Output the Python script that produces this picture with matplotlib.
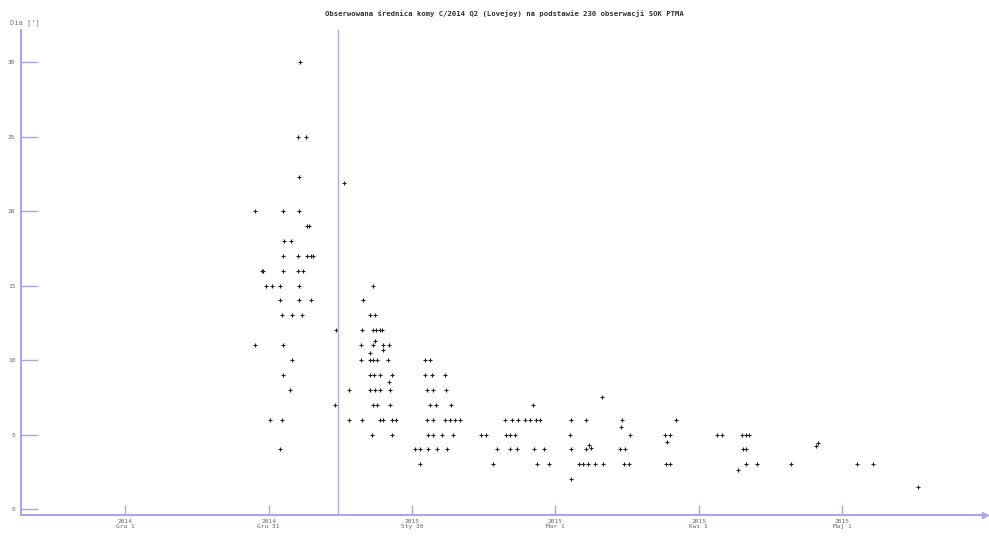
import matplotlib
matplotlib.use("Agg")
import matplotlib.pyplot as plt

# dni liczone od 1 grudnia 2014
dzien = [
    36.6, 36.2, 37.9, 36.4, 27.2, 33.1, 36.4, 38.0, 38.4, 33.3, 34.7,
    33.1, 36.2, 38.1, 38.9, 39.3, 28.7, 28.9, 33.1, 36.2, 37.2,
    29.5, 30.8, 32.4, 36.4, 32.4, 36.4, 38.9, 32.8, 34.9, 37.0,
    27.2, 33.1, 34.9, 33.1, 34.5, 30.3, 32.8, 32.4,
    44.1, 43.9, 45.8,
    51.9, 49.8, 51.3, 52.3, 49.6, 51.9, 52.5, 53.3, 53.8, 52.3,
    49.4, 51.9, 54.0, 55.2, 51.3, 54.0, 49.4, 51.3, 51.9, 52.7, 55.0,
    51.3, 52.1, 53.3, 55.9, 55.2, 46.9, 51.3, 52.3, 53.3, 55.4,
    51.9, 52.7, 55.4, 46.9, 49.6, 53.3, 54.0, 55.9, 56.7, 51.7, 55.9,
    62.8, 63.8, 62.8, 64.2, 66.9, 63.2, 64.4, 67.2, 63.8, 65.1, 68.2,
    63.2, 64.4, 66.9, 68.0, 69.0, 70.1, 63.4, 64.4, 66.3, 68.6,
    60.7, 61.7, 63.4, 65.3, 67.4, 61.7,
    74.5, 75.5, 79.7, 80.5, 81.6, 79.5, 81.0, 82.2, 83.7, 84.7, 86.0, 86.8,
    85.4, 77.8, 80.5, 82.0, 85.6, 87.7, 77.0, 86.2, 88.7,
    93.3, 96.4, 104.0, 93.1, 105.6, 99.8, 103.8, 97.1, 97.5,
    93.3, 96.4, 103.6, 104.6, 95.0, 95.8, 96.9, 98.3, 100.0, 104.4, 105.4, 93.3,
    113.0, 114.0, 113.4, 115.3, 113.2, 114.0,
    123.8, 124.9, 129.1, 129.9, 130.5, 129.3, 129.9, 129.9, 132.2, 128.2,
    139.3, 144.6, 145.0, 153.1, 156.5, 165.9,
]
srednica = [
    30, 25, 25, 22.3, 20, 20, 20, 19, 19, 18, 18,
    17, 17, 17, 17, 17, 16, 16, 16, 16, 16,
    15, 15, 15, 15, 14, 14, 14, 13, 13, 13,
    11, 11, 10, 9, 8, 6, 6, 4,
    12, 7, 21.9,
    15, 14, 13, 13, 12, 12, 12, 12, 12, 11.3,
    11, 11, 11, 11, 10.5, 10.7, 10, 10, 10, 10, 10,
    9, 9, 9, 9, 8.5, 8, 8, 8, 8, 8,
    7, 7, 7, 6, 6, 6, 6, 6, 6, 5, 5,
    10, 10, 9, 9, 9, 8, 8, 8, 7, 7, 7,
    6, 6, 6, 6, 6, 6, 5, 5, 5, 5,
    4, 4, 4, 4, 4, 3,
    5, 5, 5, 5, 5, 6, 6, 6, 6, 6, 6, 6,
    7, 4, 4, 4, 4, 4, 3, 3, 3,
    6, 6, 6, 5, 5, 7.5, 5.5, 4.3, 4.1,
    4, 4, 4, 4, 3, 3, 3, 3, 3, 3, 3, 2,
    5, 5, 4.5, 6, 3, 3,
    5, 5, 5, 5, 5, 4, 4, 3, 3, 2.6,
    3, 4.2, 4.4, 3, 3, 1.5,
]

peryhelium = 44.6
ticki_x = [0, 30, 60, 90, 120, 150]
etykiety_x = ["2014\nGru 1", "2014\nGru 31", "2015\nSty 30",
              "2015\nMar 1", "2015\nKwi 1", "2015\nMaj 1"]
ticki_y = [0, 5, 10, 15, 20, 25, 30]

os_kolor = "#a8a8e8"

fig = plt.figure(figsize=(9.89, 5.37), dpi=100)
ax = fig.add_axes([0.0212, 0.041, 0.9748, 0.903])

ax.plot(dzien, srednica, "+", color="#202020", ms=2.6, mew=0.8)
ax.axvline(peryhelium, color="#c8a0e0", lw=1)

ax.set_xlim(-21.8, 179.9)
ax.set_ylim(-0.4, 32.15)

for s in ["top", "right"]:
    ax.spines[s].set_visible(False)
for s in ["left", "bottom"]:
    ax.spines[s].set_color(os_kolor)
    ax.spines[s].set_linewidth(1.5)

ax.set_yticks(ticki_y)
ax.set_yticklabels([str(v) for v in ticki_y])
ax.set_xticks(ticki_x)
ax.set_xticklabels(etykiety_x)
ax.tick_params(axis="y", direction="in", length=12, width=1, color=os_kolor,
               labelsize=4.5, labelcolor="#666666", pad=4)
ax.tick_params(axis="x", direction="in", length=7, width=1, color=os_kolor,
               labelsize=4.5, labelcolor="#666666", pad=3)
for t in ax.get_xticklabels() + ax.get_yticklabels():
    t.set_family("DejaVu Sans Mono")
    t.set_linespacing(1.0)

# strzalka na koncu osi czasu
ax.plot(1, 0, ">", transform=ax.transAxes, color=os_kolor, ms=4, clip_on=False)

fig.text(0.01, 0.955, "Dia [']", fontsize=5, color="#777777",
         family="DejaVu Sans Mono")
fig.text(0.51, 0.975,
         "Obserwowana średnica komy C/2014 Q2 (Lovejoy) na podstawie 230 obserwacji SOK PTMA",
         ha="center", va="center", fontsize=5.2, fontweight="bold",
         color="#303030", family="DejaVu Sans Mono")

fig.savefig("out.png", dpi=100, facecolor="white")
